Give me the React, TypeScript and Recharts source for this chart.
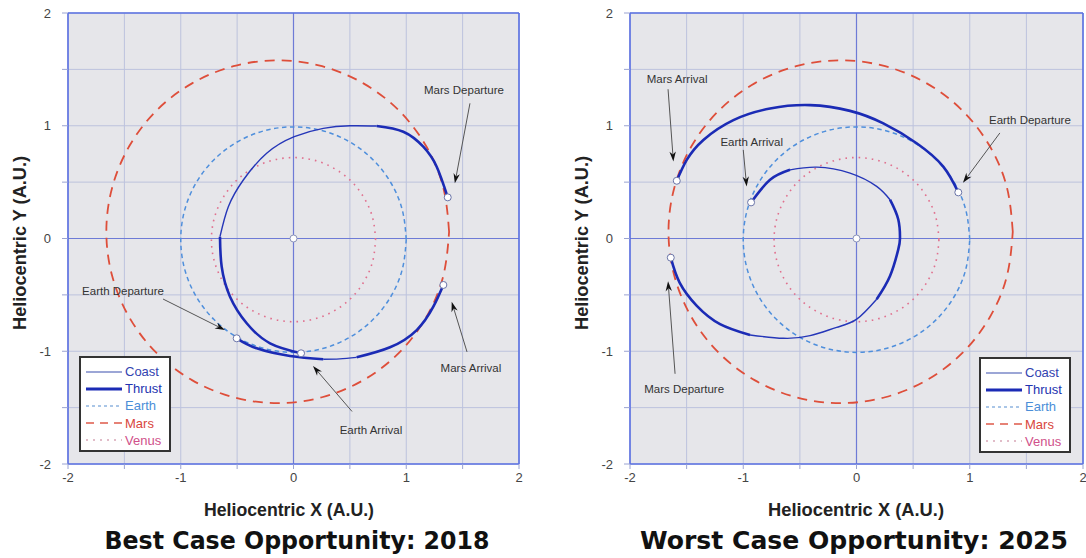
import React from 'react';
import { LineChart, Line, XAxis, YAxis, CartesianGrid, ReferenceLine, ReferenceDot, Legend } from 'recharts';

type P = { x: number; y: number };
const pts = (a: number[][]): P[] => a.map(([x, y]) => ({ x, y }));

// ---------- axis ticks ----------
const axisTicks = [-2, -1.5, -1, -0.5, 0, 0.5, 1, 1.5, 2];
const labeledTicks = [-2, -1, 0, 1, 2];

// ---------- planetary orbits (A.U.) ----------
const marsOrbit = pts([
  [1.38, 0.06], [1.328, 0.453], [1.176, 0.82], [0.935, 1.135], [0.62, 1.376], [0.253, 1.528],
  [-0.14, 1.58], [-0.533, 1.528], [-0.9, 1.376], [-1.215, 1.135], [-1.456, 0.82], [-1.608, 0.453],
  [-1.66, 0.06], [-1.608, -0.333], [-1.456, -0.7], [-1.215, -1.015], [-0.9, -1.256], [-0.533, -1.408],
  [-0.14, -1.46], [0.253, -1.408], [0.62, -1.256], [0.935, -1.015], [1.176, -0.7], [1.328, -0.333],
  [1.38, 0.06],
]);
const earthOrbit = pts([
  [1, -0.01], [0.966, 0.249], [0.866, 0.49], [0.707, 0.697], [0.5, 0.856], [0.259, 0.956],
  [0, 0.99], [-0.259, 0.956], [-0.5, 0.856], [-0.707, 0.697], [-0.866, 0.49], [-0.966, 0.249],
  [-1, -0.01], [-0.966, -0.269], [-0.866, -0.51], [-0.707, -0.717], [-0.5, -0.876], [-0.259, -0.976],
  [0, -1.01], [0.259, -0.976], [0.5, -0.876], [0.707, -0.717], [0.866, -0.51], [0.966, -0.269],
  [1, -0.01],
]);
const venusOrbit = pts([
  [0.728, -0.01], [0.703, 0.179], [0.63, 0.354], [0.515, 0.505], [0.364, 0.62], [0.189, 0.693],
  [0, 0.718], [-0.189, 0.693], [-0.364, 0.62], [-0.515, 0.505], [-0.63, 0.354], [-0.703, 0.179],
  [-0.728, -0.01], [-0.703, -0.199], [-0.63, -0.374], [-0.515, -0.525], [-0.364, -0.64], [-0.189, -0.713],
  [0, -0.738], [0.189, -0.713], [0.364, -0.64], [0.515, -0.525], [0.63, -0.374], [0.703, -0.199],
  [0.728, -0.01],
]);

// ---------- 2018 (best case) trajectory ----------
const bestOutThrust1 = pts([[-0.504, -0.885], [-0.326, -0.974], [-0.031, -1.042], [0.264, -1.071]]);
const bestOutCoast = pts([[0.264, -1.071], [0.41, -1.068], [0.56, -1.054]]);
const bestOutThrust2 = pts([[0.56, -1.054], [0.856, -0.965], [1.093, -0.812], [1.24, -0.605], [1.329, -0.412]]);
const bestRetThrust1 = pts([[1.368, 0.365], [1.27, 0.637], [1.151, 0.814], [0.974, 0.947], [0.738, 0.998]]);
const bestRetCoast = pts([
  [0.738, 0.998], [0.501, 1.0], [0.264, 0.977], [0.007, 0.903], [-0.238, 0.756], [-0.445, 0.519],
  [-0.578, 0.282], [-0.652, 0.016],
]);
const bestRetThrust2 = pts([[-0.652, 0.016], [-0.637, -0.25], [-0.563, -0.516], [-0.415, -0.752], [-0.208, -0.93], [0.067, -1.018]]);

// ---------- 2025 (worst case) trajectory ----------
const worstOutThrust = pts([
  [0.899, 0.409], [0.766, 0.638], [0.531, 0.845], [0.237, 1.021], [-0.057, 1.132], [-0.41, 1.183],
  [-0.763, 1.153], [-1.087, 1.05], [-1.352, 0.874], [-1.499, 0.697], [-1.587, 0.512],
]);
const worstRetThrust1 = pts([[-1.64, -0.17], [-1.562, -0.391], [-1.41, -0.597], [-1.205, -0.759], [-0.94, -0.856]]);
const worstRetCoast1 = pts([[-0.94, -0.856], [-0.646, -0.885], [-0.41, -0.862], [-0.175, -0.788], [0.002, -0.715], [0.178, -0.538]]);
const worstRetThrust2 = pts([[0.178, -0.538], [0.296, -0.333], [0.369, -0.097], [0.384, 0.0], [0.369, 0.168], [0.296, 0.344]]);
const worstRetCoast2 = pts([[0.296, 0.344], [0.178, 0.462], [-0.057, 0.58], [-0.35, 0.633], [-0.587, 0.609]]);
const worstRetThrust3 = pts([[-0.587, 0.609], [-0.763, 0.521], [-0.931, 0.32]]);

// ---------- annotations (text centre, arrow start, arrow tip) ----------
type Note = { text: string; tx: number; ty: number; x1: number; y1: number; x2: number; y2: number };
const bestNotes: Note[] = [
  { text: 'Mars Departure', tx: 1.512, ty: 1.317, x1: 1.565, y1: 1.199, x2: 1.431, y2: 0.489 },
  { text: 'Earth Departure', tx: -1.512, ty: -0.466, x1: -1.157, y1: -0.537, x2: -0.608, y2: -0.812 },
  { text: 'Earth Arrival', tx: 0.687, ty: -1.698, x1: 0.519, y1: -1.534, x2: 0.173, y2: -1.131 },
  { text: 'Mars Arrival', tx: 1.574, ty: -1.149, x1: 1.539, y1: -1.006, x2: 1.403, y2: -0.561 },
];
const worstNotes: Note[] = [
  { text: 'Mars Arrival', tx: -1.584, ty: 1.412, x1: -1.664, y1: 1.324, x2: -1.617, y2: 0.682 },
  { text: 'Earth Arrival', tx: -0.925, ty: 0.859, x1: -1.0, y1: 0.786, x2: -0.97, y2: 0.462 },
  { text: 'Earth Departure', tx: 1.531, ty: 1.05, x1: 1.266, y1: 0.936, x2: 0.94, y2: 0.494 },
  { text: 'Mars Departure', tx: -1.522, ty: -1.333, x1: -1.602, y1: -1.2, x2: -1.664, y2: -0.38 },
];

const legendNames = ['Coast', 'Thrust', 'Earth', 'Mars', 'Venus'];

// ---------- styles ----------
const C = {
  coast: '#2536b8',
  thrust: '#1b2bb5',
  earth: '#4f8fdc',
  mars: '#de4e3a',
  venus: '#e0708e',
  grid: '#bcc2dd',
  bg: '#e6e6ea',
  border: '#5a70e2',
  zero: '#6e7bd6',
};
const legendStyle: Record<string, { color: string; width: number; dash?: string; text: string }> = {
  Coast: { color: '#7b88c8', width: 1.5, text: '#3343b0' },
  Thrust: { color: '#1b2bb5', width: 3, text: '#2233b0' },
  Earth: { color: '#8fb4e0', width: 1.5, dash: '3 3', text: '#4a8ed8' },
  Mars: { color: '#de5a4a', width: 1.5, dash: '8 6', text: '#d8463c' },
  Venus: { color: '#d8a6b6', width: 1.5, dash: '2 5', text: '#d0508a' },
};
const FONT = '"Liberation Sans", Arial, Helvetica, sans-serif';

const arrowShape = (p: any) => {
  const { x1, y1, x2, y2 } = p;
  const dx = x2 - x1;
  const dy = y2 - y1;
  const len = Math.hypot(dx, dy) || 1;
  const ux = dx / len;
  const uy = dy / len;
  const L = 10;
  const W = 3.2;
  const bx = x2 - ux * L;
  const by = y2 - uy * L;
  const nx = x2 - ux * L * 0.7;
  const ny = y2 - uy * L * 0.7;
  return (
    <g>
      <line x1={x1} y1={y1} x2={nx} y2={ny} stroke="#555" strokeWidth={1} />
      <polygon
        points={`${x2},${y2} ${bx - uy * W},${by + ux * W} ${nx},${ny} ${bx + uy * W},${by - ux * W}`}
        fill="#111"
      />
    </g>
  );
};

const noteText = (text: string) => (p: any) => (
  <text x={p.cx} y={p.cy} textAnchor="middle" dominantBaseline="central" fontSize={11.5} fill="#333" fontFamily={FONT}>
    {text}
  </text>
);

const LegendBox = () => (
  <div
    style={{
      width: 92,
      height: 96,
      boxSizing: 'border-box',
      background: '#fff',
      border: '2px solid #333',
      paddingTop: 5,
    }}
  >
    {legendNames.map((n) => {
      const s = legendStyle[n];
      return (
        <div key={n} style={{ display: 'flex', alignItems: 'center', height: 17.2 }}>
          <svg width={44} height={10} style={{ display: 'block' }}>
            <line x1={5} y1={5} x2={41} y2={5} stroke={s.color} strokeWidth={s.width} strokeDasharray={s.dash} />
          </svg>
          <span style={{ fontFamily: FONT, fontSize: 13, color: s.text, lineHeight: '13px' }}>{n}</span>
        </div>
      );
    })}
  </div>
);

const Panel = ({
  margin,
  coast,
  thrust,
  notes,
  markers,
  legendPos,
}: {
  margin: { top: number; right: number; bottom: number; left: number };
  coast: P[][];
  thrust: P[][];
  notes: Note[];
  markers: P[];
  legendPos: { left: number; top: number };
}) => (
  <LineChart width={543} height={558} margin={margin}>
    <CartesianGrid stroke={C.grid} fill={C.bg} fillOpacity={1} strokeWidth={1} />
    <XAxis
      type="number"
      dataKey="x"
      domain={[-2, 2]}
      ticks={axisTicks}
      interval={0}
      tickFormatter={(v: number) => (labeledTicks.includes(v) ? String(v) : '')}
      axisLine={false}
      tickLine={{ stroke: '#9aa3d2' }}
      tickSize={5}
      tickMargin={4}
      height={30}
      tick={{ fontSize: 13, fill: '#444', fontFamily: FONT }}
      allowDataOverflow
    />
    <YAxis
      type="number"
      dataKey="y"
      domain={[-2, 2]}
      ticks={axisTicks}
      interval={0}
      tickFormatter={(v: number) => (labeledTicks.includes(v) ? String(v) : '')}
      axisLine={false}
      tickLine={{ stroke: '#9aa3d2' }}
      tickSize={6}
      tickMargin={11}
      width={40}
      tick={{ fontSize: 13, fill: '#444', fontFamily: FONT }}
      allowDataOverflow
    />
    <ReferenceLine x={0} stroke={C.zero} strokeWidth={1.2} />
    <ReferenceLine y={0} stroke={C.zero} strokeWidth={1.2} />
    <ReferenceLine x={-2} stroke={C.border} strokeWidth={1.6} />
    <ReferenceLine x={2} stroke={C.border} strokeWidth={1.6} />
    <ReferenceLine y={-2} stroke={C.border} strokeWidth={1.6} />
    <ReferenceLine y={2} stroke={C.border} strokeWidth={1.6} />

    <Line data={venusOrbit} dataKey="y" type="natural" stroke={C.venus} strokeWidth={1.6} strokeDasharray="1.6 5" dot={false} activeDot={false} isAnimationActive={false} />
    <Line data={earthOrbit} dataKey="y" type="natural" stroke={C.earth} strokeWidth={1.5} strokeDasharray="4.5 3.5" dot={false} activeDot={false} isAnimationActive={false} />
    <Line data={marsOrbit} dataKey="y" type="natural" stroke={C.mars} strokeWidth={1.8} strokeDasharray="10 7" dot={false} activeDot={false} isAnimationActive={false} />

    {coast.map((d, i) => (
      <Line key={'c' + i} data={d} dataKey="y" type="natural" stroke={C.coast} strokeWidth={1.4} dot={false} activeDot={false} isAnimationActive={false} />
    ))}
    {thrust.map((d, i) => (
      <Line key={'t' + i} data={d} dataKey="y" type="natural" stroke={C.thrust} strokeWidth={2.6} dot={false} activeDot={false} isAnimationActive={false} />
    ))}

    <ReferenceDot x={0} y={0} r={3.5} fill="#fff" stroke="#8a92b8" strokeWidth={1} />
    {markers.map((m, i) => (
      <ReferenceDot key={'m' + i} x={m.x} y={m.y} r={3.5} fill="#fff" stroke="#6a74a8" strokeWidth={1} />
    ))}

    {notes.map((n, i) => (
      <ReferenceLine
        key={'a' + i}
        segment={[
          { x: n.x1, y: n.y1 },
          { x: n.x2, y: n.y2 },
        ]}
        shape={arrowShape}
        ifOverflow="visible"
      />
    ))}
    {notes.map((n, i) => (
      <ReferenceDot key={'n' + i} x={n.tx} y={n.ty} r={1} shape={noteText(n.text)} ifOverflow="visible" />
    ))}

    <Legend
      layout="vertical"
      align="center"
      verticalAlign="middle"
      content={() => <LegendBox />}
      wrapperStyle={{ left: legendPos.left, top: legendPos.top, width: 92, height: 96 }}
    />
  </LineChart>
);

const first = (a: P[]) => a[0];
const last = (a: P[]) => a[a.length - 1];

export default function App() {
  return (
    <div style={{ position: 'absolute', left: 0, top: 0, width: 1086, height: 558, background: '#fff', overflow: 'hidden' }}>
      <div style={{ position: 'absolute', left: 0, top: 0 }}>
        <Panel
          margin={{ top: 13, right: 24, bottom: 64, left: 28 }}
          coast={[bestOutCoast, bestRetCoast]}
          thrust={[bestOutThrust1, bestOutThrust2, bestRetThrust1, bestRetThrust2]}
          notes={bestNotes}
          markers={[first(bestOutThrust1), last(bestOutThrust2), first(bestRetThrust1), last(bestRetThrust2)]}
          legendPos={{ left: 79, top: 356 }}
        />
      </div>
      <div style={{ position: 'absolute', left: 543, top: 0 }}>
        <Panel
          margin={{ top: 13, right: 3, bottom: 64, left: 47 }}
          coast={[worstRetCoast1, worstRetCoast2]}
          thrust={[worstOutThrust, worstRetThrust1, worstRetThrust2, worstRetThrust3]}
          notes={worstNotes}
          markers={[first(worstOutThrust), last(worstOutThrust), first(worstRetThrust1), last(worstRetThrust3)]}
          legendPos={{ left: 436, top: 357 }}
        />
      </div>
      <svg width={1086} height={558} style={{ position: 'absolute', left: 0, top: 0, pointerEvents: 'none' }}>
        <g fontFamily={FONT} fontWeight="bold" fontSize={17.5} fill="#222">
          <text x={289} y={516} textAnchor="middle" textLength={170} lengthAdjust="spacingAndGlyphs">
            Heliocentric X (A.U.)
          </text>
          <text x={856} y={516} textAnchor="middle" textLength={176} lengthAdjust="spacingAndGlyphs">
            Heliocentric X (A.U.)
          </text>
          <text x={0} y={0} textAnchor="middle" transform="translate(26 243) rotate(-90)" textLength={174} lengthAdjust="spacingAndGlyphs">
            Heliocentric Y (A.U.)
          </text>
          <text x={0} y={0} textAnchor="middle" transform="translate(588 243) rotate(-90)" textLength={174} lengthAdjust="spacingAndGlyphs">
            Heliocentric Y (A.U.)
          </text>
        </g>
        <g fontFamily='"DejaVu Sans", Verdana, sans-serif' fontWeight="bold" fontSize={25.5} fill="#111">
          <text x={297} y={549} textAnchor="middle" textLength={385} lengthAdjust="spacingAndGlyphs">
            Best Case Opportunity: 2018
          </text>
          <text x={854} y={549} textAnchor="middle" textLength={428} lengthAdjust="spacingAndGlyphs">
            Worst Case Opportunity: 2025
          </text>
        </g>
      </svg>
    </div>
  );
}
